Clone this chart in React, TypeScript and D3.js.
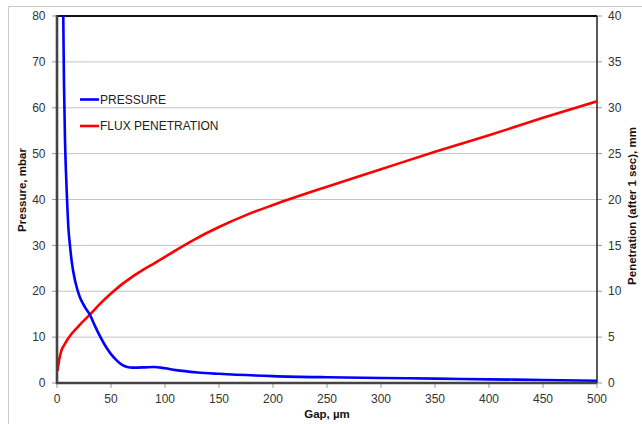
import React from 'react';
import * as d3 from 'd3';

// gap in µm, pressure in mbar (left axis)
const pressureGap = [5.3, 5.8, 6.5, 7.4, 8.3, 9.3, 10.5, 12, 13.6, 17, 21, 26, 30.6, 35, 40, 45, 50, 55, 60, 65, 70, 80, 90, 100, 110, 130, 150, 200, 250, 300, 350, 400, 450, 500];
const pressureVals = [100, 80, 65, 53, 46, 40, 34, 30, 26.5, 22, 18.8, 16.5, 14.8, 12.5, 10.1, 8, 6.3, 5, 4, 3.5, 3.35, 3.4, 3.5, 3.2, 2.8, 2.3, 2.0, 1.5, 1.25, 1.1, 0.95, 0.8, 0.65, 0.5];

// gap in µm, penetration in mm (right axis)
const fluxGap = [0.5, 2, 4, 7, 10, 20, 30, 40, 50, 60, 70, 80, 90, 100, 125, 150, 175, 200, 250, 300, 350, 400, 450, 500];
const fluxVals = [1.3, 2.5, 3.5, 4.2, 4.8, 6.2, 7.4, 8.65, 9.75, 10.75, 11.6, 12.35, 13.05, 13.75, 15.5, 17.0, 18.3, 19.4, 21.4, 23.3, 25.2, 27.0, 28.9, 30.7];

const xTicks = [0, 50, 100, 150, 200, 250, 300, 350, 400, 450, 500];
const leftTicks = [0, 10, 20, 30, 40, 50, 60, 70, 80];
const rightTicks = [0, 5, 10, 15, 20, 25, 30, 35, 40];

const legendItems = [
  { label: 'PRESSURE', color: '#0000ff' },
  { label: 'FLUX PENETRATION', color: '#ff0000' },
];

const W = 642;
const H = 424;
const plot = { left: 57, right: 597, top: 16, bottom: 383 };

const App = () => {
  const x = d3.scaleLinear().domain([0, 500]).range([plot.left, plot.right]);
  const yL = d3.scaleLinear().domain([0, 80]).range([plot.bottom, plot.top]);
  const yR = d3.scaleLinear().domain([0, 40]).range([plot.bottom, plot.top]);

  const pressureLine = d3.line<number>()
    .x((_, i) => x(pressureGap[i]))
    .y(d => yL(d))
    .curve(d3.curveMonotoneX);

  const fluxLine = d3.line<number>()
    .x((_, i) => x(fluxGap[i]))
    .y(d => yR(d))
    .curve(d3.curveMonotoneX);

  const font = '"Liberation Sans", Arial, sans-serif';

  return (
    <svg width={W} height={H} style={{ position: 'absolute', left: 0, top: 0, background: '#fff' }} fontFamily={font}>
      <defs>
        <clipPath id="plotClip">
          <rect x={plot.left} y={plot.top} width={plot.right - plot.left} height={plot.bottom - plot.top} />
        </clipPath>
      </defs>

      {/* outer frame */}
      <line x1={8.5} y1={6.5} x2={W} y2={6.5} stroke="#c8c8c8" />
      <line x1={8.5} y1={6.5} x2={8.5} y2={H} stroke="#c8c8c8" />

      {/* gridlines */}
      {leftTicks.filter(t => t > 0 && t < 80).map(t => (
        <line key={'g' + t} x1={plot.left} x2={plot.right} y1={yL(t)} y2={yL(t)} stroke="#c4c4c4" strokeWidth={1} />
      ))}

      {/* ticks */}
      {leftTicks.map(t => (
        <g key={'l' + t}>
          <line x1={plot.left - 5} x2={plot.left} y1={yL(t)} y2={yL(t)} stroke="#999" />
          <text x={45.5} y={yL(t)} dy="0.35em" textAnchor="end" fontSize={12} fill="#333">{t}</text>
        </g>
      ))}
      {rightTicks.map(t => (
        <g key={'r' + t}>
          <line x1={plot.right} x2={plot.right + 5} y1={yR(t)} y2={yR(t)} stroke="#999" />
          <text x={608} y={yR(t)} dy="0.35em" textAnchor="start" fontSize={12} fill="#333">{t}</text>
        </g>
      ))}
      {xTicks.map(t => (
        <g key={'x' + t}>
          <line x1={x(t)} x2={x(t)} y1={plot.bottom} y2={plot.bottom + 5} stroke="#999" />
          <text x={x(t)} y={402.5} textAnchor="middle" fontSize={12} fill="#333">{t}</text>
        </g>
      ))}

      {/* plot border */}
      <line x1={plot.left} x2={plot.right} y1={plot.top} y2={plot.top} stroke="#111" strokeWidth={1.8} />
      <line x1={plot.right} x2={plot.right} y1={plot.top} y2={plot.bottom} stroke="#222" strokeWidth={1.5} />

      {/* series */}
      <g clipPath="url(#plotClip)">
        <path d={fluxLine(fluxVals) || ''} fill="none" stroke="#ff0000" strokeWidth={2.6} />
        <path d={pressureLine(pressureVals) || ''} fill="none" stroke="#0000ff" strokeWidth={2.6} />
      </g>

      <line x1={plot.left} x2={plot.left} y1={plot.top - 1} y2={plot.bottom + 1} stroke="#444" strokeWidth={2.6} />
      <line x1={plot.left - 1} x2={plot.right} y1={plot.bottom} y2={plot.bottom} stroke="#444" strokeWidth={2.4} />

      {/* legend */}
      {legendItems.map((d, i) => (
        <g key={d.label} transform={`translate(80, ${99.5 + i * 26.5})`}>
          <line x1={0} x2={19} y1={0} y2={0} stroke={d.color} strokeWidth={2.6} />
          <text x={20} y={0} dy="0.35em" fontSize={12} fill="#222">{d.label}</text>
        </g>
      ))}

      {/* axis titles */}
      <text transform="translate(26, 190) rotate(-90)" textAnchor="middle" fontSize={11.5} fontWeight="bold" fill="#111">Pressure, mbar</text>
      <text transform="translate(636, 206) rotate(-90)" textAnchor="middle" fontSize={11.5} fontWeight="bold" fill="#111">Penetration (after 1 sec), mm</text>
      <text x={327} y={418} textAnchor="middle" fontSize={11.5} fontWeight="bold" fill="#111">Gap, µm</text>
    </svg>
  );
};

export default App;
